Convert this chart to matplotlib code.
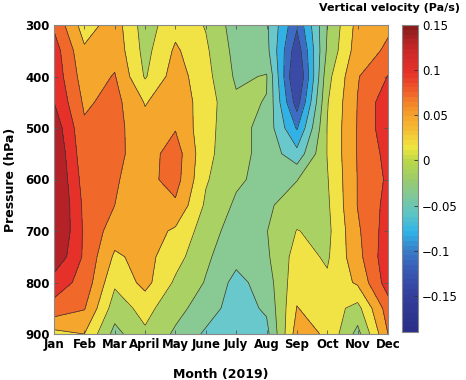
import numpy as np
import matplotlib
matplotlib.use("Agg")
import matplotlib.pyplot as plt
from matplotlib.colors import ListedColormap, BoundaryNorm, LinearSegmentedColormap, Normalize
from matplotlib.cm import ScalarMappable

plt.rcParams['font.family'] = ['DejaVu Sans']

month_labels = ['Jan', 'Feb', 'Mar', 'April', 'May', 'June', 'July', 'Aug', 'Sep', 'Oct', 'Nov', 'Dec']
months = np.arange(1, 13)
pressure = [300, 350, 400, 450, 500, 550, 600, 650, 700, 750, 800, 850, 900]

# vertical velocity (Pa/s), one list per month, from 300 hPa down to 900 hPa
w_jan = [0.085, 0.105, 0.11, 0.12, 0.14, 0.15, 0.155, 0.16, 0.16, 0.145, 0.105, 0.08, 0.02]
w_feb = [0.015, 0.035, 0.045, 0.055, 0.065, 0.07, 0.077, 0.083, 0.085, 0.085, 0.08, 0.062, 0.03]
w_mar = [0.045, 0.05, 0.062, 0.07, 0.07, 0.068, 0.062, 0.06, 0.045, 0.025, 0.005, -0.015, -0.04]
w_apr = [-0.015, -0.01, -0.003, 0.028, 0.04, 0.045, 0.05, 0.05, 0.045, 0.04, 0.04, 0.01, -0.005]
w_may = [0.02, 0.035, 0.045, 0.05, 0.058, 0.075, 0.072, 0.055, 0.025, 0.012, -0.005, -0.02, -0.035]
w_jun = [-0.002, 0.005, 0.01, 0.015, 0.01, 0.008, 0.003, -0.005, -0.015, -0.025, -0.032, -0.045, -0.065]
w_jul = [-0.045, -0.04, -0.035, -0.025, -0.02, -0.02, -0.025, -0.035, -0.045, -0.05, -0.07, -0.075, -0.07]
w_aug = [-0.055, -0.05, -0.028, -0.031, -0.04, -0.04, -0.04, -0.035, -0.031, -0.035, -0.045, -0.055, -0.07]
w_sep = [-0.145, -0.17, -0.19, -0.165, -0.123, -0.08, -0.031, -0.015, 0.001, 0.012, 0.02, 0.031, 0.045]
w_oct = [-0.03, -0.025, -0.01, -0.002, 0.001, 0.001, -0.002, -0.005, -0.008, -0.004, 0.005, 0.015, 0.025]
w_nov = [0.04, 0.045, 0.058, 0.061, 0.062, 0.062, 0.061, 0.061, 0.055, 0.05, 0.035, -0.01, -0.04]
w_dec = [0.055, 0.065, 0.091, 0.11, 0.11, 0.1, 0.095, 0.1, 0.105, 0.11, 0.105, 0.075, 0.06]

levels = [-1.0, -0.15, -0.12, -0.09, -0.06, -0.03, 0.0, 0.03, 0.06, 0.09, 0.12, 1.0]
band_colors = ['#3B4AA6', '#3C6CC4', '#31B1E6', '#68C8CB', '#88C994', '#A9D163',
               '#F1E346', '#F5A62C', '#F0682A', '#E5312A', '#B42126']

cbar_ticks = [-0.15, -0.1, -0.05, 0, 0.05, 0.1, 0.15]
cbar_ticklabels = ['\u22120.15', '\u22120.1', '\u22120.05', '0', '0.05', '0.1', '0.15']

W = np.array([w_jan, w_feb, w_mar, w_apr, w_may, w_jun, w_jul, w_aug,
              w_sep, w_oct, w_nov, w_dec]).T

fig = plt.figure(figsize=(4.66, 3.8), dpi=100)
ax = fig.add_axes([54/466, 46/380, 334/466, 309/380])

X, Y = np.meshgrid(months, pressure)
cmap_b = ListedColormap(band_colors)
norm_b = BoundaryNorm(levels, cmap_b.N)
ax.contourf(X, Y, W, levels=levels, cmap=cmap_b, norm=norm_b)
ax.contour(X, Y, W, levels=levels[1:-1], colors='#333333', linewidths=0.5,
           linestyles='solid')

ax.set_xlim(1, 12)
ax.set_ylim(900, 300)
ax.set_xticks(months)
ax.set_xticklabels(month_labels, fontsize=8.5, fontweight='bold')
ax.set_yticks([300, 400, 500, 600, 700, 800, 900])
ax.set_yticklabels([str(p) for p in [300, 400, 500, 600, 700, 800, 900]], fontsize=8.5, fontweight='bold')
ax.tick_params(direction='in', length=3, width=0.6, color='#555555', top=True, right=True, pad=3)
for s in ax.spines.values():
    s.set_color('#888888')
    s.set_linewidth(0.8)
ax.set_xlabel('Month (2019)', fontsize=9, fontweight='bold', labelpad=12)
ax.set_ylabel('Pressure (hPa)', fontsize=9, fontweight='bold', labelpad=6)

# colorbar
anchors = [(-0.19, '#2A2E88'), (-0.15, '#33409C'), (-0.12, '#3A5DB8'), (-0.10, '#3A80C8'),
           (-0.08, '#2FB4E8'), (-0.06, '#5CC4C4'), (-0.04, '#80C89A'), (-0.02, '#9CCC6A'),
           (0.0, '#BCD848'), (0.015, '#EEE440'), (0.04, '#F5B530'), (0.06, '#F5902A'),
           (0.08, '#EE5A2A'), (0.10, '#E5302A'), (0.125, '#C82828'), (0.15, '#8B1C1C')]
vmin, vmax = -0.19, 0.15
cmap_c = LinearSegmentedColormap.from_list(
    'vv', [((v - vmin) / (vmax - vmin), c) for v, c in anchors], N=64)
cax = fig.add_axes([402/466, 48/380, 16/466, 307/380])
sm = ScalarMappable(norm=Normalize(vmin, vmax), cmap=cmap_c)
cb = fig.colorbar(sm, cax=cax, ticks=cbar_ticks)
cb.set_ticklabels(cbar_ticklabels)
cb.outline.set_edgecolor('#888888')
cb.outline.set_linewidth(0.8)
cax.tick_params(direction='in', length=3, width=0.6, color='#333333', labelsize=8.5, pad=3)
fig.text(460/466, 1 - 8/380, 'Vertical velocity (Pa/s)', ha='right', va='center',
         fontsize=8, fontweight='bold')

fig.savefig('out.png', dpi=100)
